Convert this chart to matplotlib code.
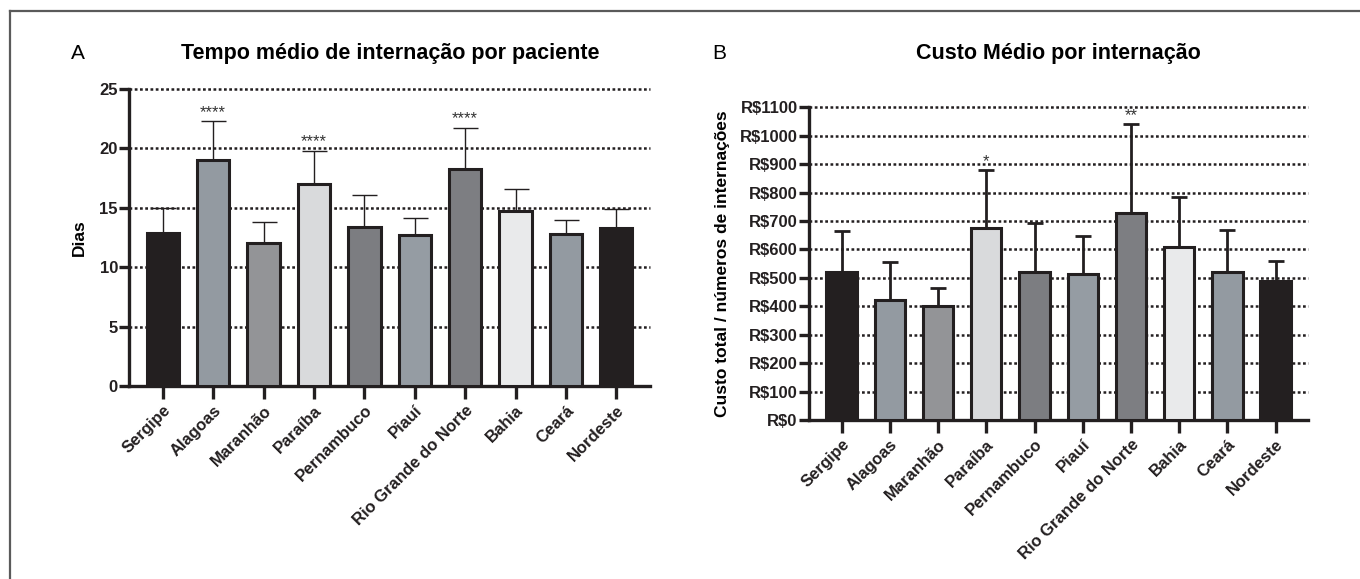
import matplotlib
matplotlib.use("Agg")
import matplotlib.pyplot as plt
from matplotlib.lines import Line2D
from matplotlib.ticker import FuncFormatter

plt.rcParams["font.family"] = ["Liberation Sans", "DejaVu Sans"]

states = ["Sergipe", "Alagoas", "Maranhão", "Paraíba", "Pernambuco", "Piauí",
          "Rio Grande do Norte", "Bahia", "Ceará", "Nordeste"]
bar_colors = ["#231f20", "#939aa1", "#939497", "#d9dadc", "#7c7d81",
              "#959ca3", "#7d7e82", "#e9eaeb", "#939aa1", "#231f20"]

# A: mean length of stay (days) and upper error
dias = [12.9, 19.0, 12.0, 17.0, 13.4, 12.7, 18.3, 14.7, 12.8, 13.3]
dias_err = [2.1, 3.3, 1.8, 2.8, 2.7, 1.4, 3.45, 1.85, 1.15, 1.6]
stars_a = ["", "****", "", "****", "", "", "****", "", "", ""]

# B: mean cost per admission (R$) and upper error
custo = [520, 422, 401, 675, 522, 514, 728, 610, 522, 489]
custo_err = [146, 133, 63, 204, 171, 133, 312, 175, 146, 70]
stars_b = ["", "", "", "*", "", "", "**", "", "", ""]

fig = plt.figure(figsize=(13.6, 5.79), dpi=100)

# outer frame (top and left lines)
fig.add_artist(Line2D([0.007, 1.0], [0.981, 0.981], color="#5a5a5a", lw=1.6,
                      transform=fig.transFigure))
fig.add_artist(Line2D([0.007, 0.007], [0.0, 0.981], color="#5a5a5a", lw=1.6,
                      transform=fig.transFigure))

axA = fig.add_axes([0.0949, 0.3333, 0.3831, 0.513])
axB = fig.add_axes([0.5947, 0.2746, 0.3667, 0.5401])


def style(ax, width, err, vals, stars, ylim, ticks, capsize, elw):
    x = list(range(len(states)))
    ax.bar(x, vals, width=width, color=bar_colors, edgecolor="#231f20",
           linewidth=2.2, zorder=3)
    ax.errorbar(x, vals, yerr=[[0] * len(vals), err], fmt="none",
                ecolor="#231f20", elinewidth=elw, capsize=capsize,
                capthick=elw, zorder=2)
    for xi, v, e, s in zip(x, vals, err, stars):
        if s:
            ax.annotate(s, (xi, v + e), xytext=(0, 3), textcoords="offset points",
                        ha="center", va="baseline", fontsize=12,
                        color="#333333", zorder=4)
    ax.set_ylim(*ylim)
    ax.set_yticks(ticks)
    for t in ticks[1:]:
        ax.axhline(t, color="#231f20", lw=1.8, ls=(0, (1.1, 1.0)), zorder=1,
                   clip_on=False)
    ax.set_xticks(x)
    ax.set_xticklabels(states, rotation=45, ha="right", rotation_mode="anchor",
                       fontsize=12, fontweight="bold")
    for sp in ("top", "right"):
        ax.spines[sp].set_visible(False)
    for sp in ("left", "bottom"):
        ax.spines[sp].set_linewidth(2.4)
        ax.spines[sp].set_color("#231f20")
    ax.tick_params(axis="y", direction="out", length=7, width=2.4,
                   labelsize=12, pad=1, colors="#231f20")
    ax.tick_params(axis="x", direction="out", length=9, width=2.4, pad=3,
                   colors="#231f20")


style(axA, 0.64, dias_err, dias, stars_a, (0, 25), [0, 5, 10, 15, 20, 25],
      9, 1.0)
axA.set_xlim(-0.67, 9.67)
for lab in axA.get_yticklabels():
    lab.set_fontweight("bold")
axA.set_ylabel("Dias", fontsize=12.5, fontweight="bold", labelpad=9)

style(axB, 0.63, custo_err, custo, stars_b, (0, 1100), list(range(0, 1101, 100)),
      6, 2.0)
axB.set_xlim(-0.68, 9.66)
axB.yaxis.set_major_formatter(FuncFormatter(lambda v, p: f"R${int(v)}"))
for lab in axB.get_yticklabels():
    lab.set_fontweight("bold")
axB.set_ylabel("Custo total / números de internações", fontsize=12.5,
               fontweight="bold", labelpad=7)

fig.text(0.2868, 0.908, "Tempo médio de internação por paciente", fontsize=15.5,
         fontweight="bold", ha="center", va="center")
fig.text(0.778, 0.908, "Custo Médio por internação", fontsize=15.5,
         fontweight="bold", ha="center", va="center")
fig.text(0.0575, 0.908, "A", fontsize=15, ha="center", va="center")
fig.text(0.529, 0.908, "B", fontsize=15, ha="center", va="center")

fig.savefig("out.png", dpi=100)
